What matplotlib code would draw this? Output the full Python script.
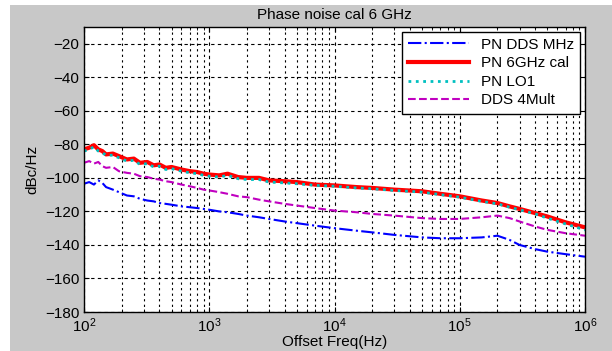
import numpy as np
import matplotlib.pyplot as plt
import matplotlib.patches as patches

freq = [100, 110, 120, 130, 140, 150, 170, 190, 220, 250, 280, 320, 360, 400, 450, 500,
        600, 700, 800, 900, 1e3, 1.2e3, 1.4e3, 1.7e3, 2e3, 2.5e3, 3e3, 4e3, 5e3, 7e3,
        1e4, 1.5e4, 2e4, 3e4, 5e4, 7e4, 1e5, 1.5e5, 2e5, 2.5e5, 3e5, 4e5, 5e5, 7e5, 1e6]

pn_dds = [-103.5, -102.5, -104, -101.5, -103, -105.5, -107, -108.5, -110.5, -111, -112.5, -113.5,
          -114, -115, -115.5, -116, -117, -117.5, -118, -118.5, -119, -120, -120.5, -121.5,
          -122.5, -123.5, -124.5, -126, -127, -128.5, -130, -131.5, -132.5, -134, -135.5,
          -136, -136, -135.5, -134.5, -137, -140, -142.5, -144, -145.5, -147]

pn_6ghz = [-83, -82, -80.5, -83, -84, -86, -85.5, -87, -89, -88.5, -91, -90.5, -92.5, -92,
           -94, -93.5, -95, -96, -96.5, -97.5, -98, -98.5, -97.5, -99.5, -100, -100, -101.5,
           -102, -102.5, -104, -104.5, -105.5, -106, -107, -108, -109.5, -111, -113.5, -115,
           -117, -118.5, -121, -123, -126.5, -129.5]

pn_lo1 = [-84, -83, -81.5, -84, -85, -86.5, -86.5, -88, -90, -89.5, -92, -91.5, -93.5, -93,
          -95, -94.5, -96, -97, -97.5, -98.5, -99, -99.5, -98.5, -100.5, -101, -101, -102.5,
          -103, -103.5, -104.5, -105, -106, -106.5, -107.5, -108.5, -110, -111.5, -114, -115.5,
          -117.5, -119, -121.5, -124, -127.5, -131]

dds_4mult = [-91, -90, -91.5, -90.5, -93, -94, -93.5, -96, -97, -97.5, -99, -99.5, -100.5,
             -101, -102, -102.5, -104, -105, -106, -107, -107.5, -108.5, -109.5, -111, -111.5,
             -113, -114, -115.5, -116.5, -118, -119.5, -120.5, -121.5, -122.5, -124, -124.5,
             -124.5, -123.5, -122.5, -124, -126, -129, -131, -133, -134.5]

plt.rcParams['font.family'] = ['Liberation Sans', 'DejaVu Sans']

fig = plt.figure(figsize=(6.12, 3.51), dpi=100)
fig.patch.set_facecolor('white')
fig.patches.append(patches.Rectangle((10/612, 0), 1, 1 - 5/351, transform=fig.transFigure,
                                     facecolor='#c8c8c8', edgecolor='none', zorder=-10))

ax = fig.add_axes([84/612, 39/351, 501/612, 285/351])
ax.plot(freq, pn_dds, color='blue', linestyle='-.', linewidth=1.5, label='PN DDS MHz')
ax.plot(freq, pn_6ghz, color='red', linestyle='-', linewidth=3, label='PN 6GHz cal')
ax.plot(freq, pn_lo1, color='#00c0c0', linestyle=':', linewidth=2, label='PN LO1')
ax.plot(freq, dds_4mult, color='#c000c0', linestyle='--', linewidth=1.5, label='DDS 4Mult')

ax.set_xscale('log')
ax.set_xlim(100, 1e6)
ax.set_ylim(-180, -10)
ax.set_yticks(np.arange(-180, -19, 20))
ax.grid(True, which='major', color='black', linestyle='--', linewidth=0.8, dashes=(3, 3))
ax.grid(True, which='minor', axis='x', color='black', linestyle=':', linewidth=0.8, dashes=(2, 3))
ax.tick_params(which='both', direction='in', top=True, right=True, labelsize=11)
for s in ax.spines.values():
    s.set_linewidth(1)

ax.set_title('Phase noise cal 6 GHz', fontsize=11, pad=6)
ax.set_xlabel('Offset Freq(Hz)', fontsize=11, labelpad=0)
ax.set_ylabel('dBc/Hz', fontsize=11)

leg = ax.legend(loc='upper right', fontsize=11, fancybox=False, framealpha=1,
                edgecolor='black', handlelength=4, borderaxespad=0.3, labelspacing=0.3)
leg.get_frame().set_linewidth(1)

fig.savefig('out.png', dpi=100)
